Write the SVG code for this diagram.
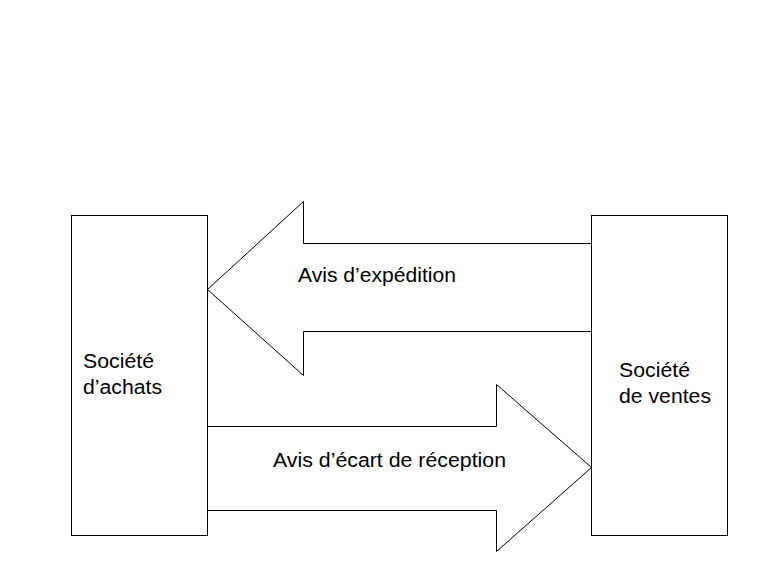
<svg xmlns="http://www.w3.org/2000/svg" width="780" height="564" viewBox="0 0 780 564">
<style>
.s{fill:#fff;stroke:#000;stroke-width:1}
.t{font-family:"Liberation Sans",Arial,sans-serif;font-size:19.5px;fill:#000}
</style>
<rect width="780" height="564" fill="#fff"/>
<g id="connectors">
<g id="avis-expedition">
<polygon class="s" points="207.5,289.5 303.5,201.5 303.5,243.5 591.5,243.5 591.5,331.5 303.5,331.5 303.5,375.5"/>
<text class="t" x="298" y="282" textLength="158" lengthAdjust="spacingAndGlyphs">Avis d’expédition</text>
</g>
<g id="avis-ecart">
<polygon class="s" points="207.5,426.5 496.5,426.5 496.5,384.5 591.5,467.5 496.5,551.5 496.5,510.5 207.5,510.5"/>
<text class="t" x="273" y="467" textLength="233" lengthAdjust="spacingAndGlyphs">Avis d’écart de réception</text>
</g>
</g>
<g id="societe-achats">
<rect class="s" x="71.5" y="215.5" width="136" height="320"/>
<text class="t" x="83" y="368" textLength="71" lengthAdjust="spacingAndGlyphs">Société</text>
<text class="t" x="83" y="394" textLength="79" lengthAdjust="spacingAndGlyphs">d’achats</text>
</g>
<g id="societe-ventes">
<rect class="s" x="591.5" y="215.5" width="136" height="320"/>
<text class="t" x="619" y="377" textLength="71" lengthAdjust="spacingAndGlyphs">Société</text>
<text class="t" x="619" y="403" textLength="92" lengthAdjust="spacingAndGlyphs">de ventes</text>
</g>
</svg>
